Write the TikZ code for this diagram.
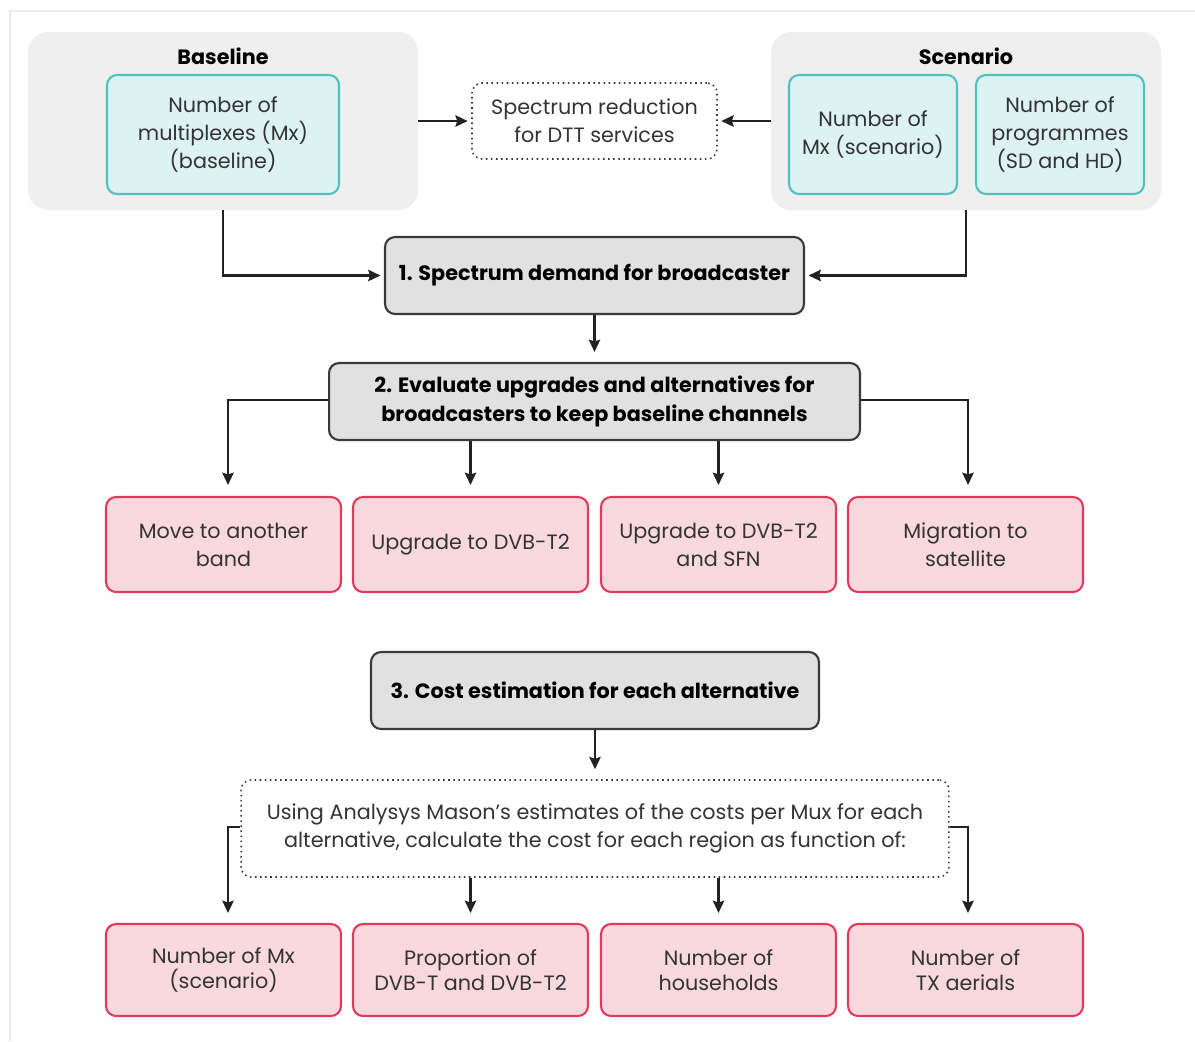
\documentclass[tikz,border=0pt]{standalone}
\usepackage{fontspec}
\setmainfont{Poppins}
\usetikzlibrary{arrows.meta}

\definecolor{grpgray}{HTML}{EFEFEF}
\definecolor{tealline}{HTML}{4FC4BE}
\definecolor{tealfill}{HTML}{DDF2F2}
\definecolor{pinkline}{HTML}{E23A5C}
\definecolor{pinkfill}{HTML}{F9D8DE}
\definecolor{stepfill}{HTML}{E1E1E1}
\definecolor{darkline}{HTML}{3A3A3A}
\definecolor{arrline}{HTML}{222222}
\definecolor{txt}{HTML}{333333}
\definecolor{framegray}{HTML}{EBEBEB}

\newcommand\bodysize{\fontsize{11.8}{16}\selectfont}

\tikzset{
  grp/.style={fill=grpgray, rounded corners=0.4cm, minimum width=7.8cm, minimum height=3.56cm},
  grptitle/.style={font=\bodysize\bfseries, text=black},
  inbox/.style={draw=tealline, fill=tealfill, line width=1.2pt, rounded corners=0.2cm, minimum height=2.38cm, align=center, font=\bodysize, text=txt},
  stepbox/.style={draw=darkline, fill=stepfill, line width=1.2pt, rounded corners=0.2cm, minimum height=1.54cm, align=center, font=\bodysize\bfseries, text=black},
  altbox/.style={draw=pinkline, fill=pinkfill, line width=1.2pt, rounded corners=0.2cm, minimum width=4.7cm, align=center, font=\bodysize, text=txt},
  dotbox/.style={draw=darkline, dotted, line width=0.9pt, rounded corners=0.2cm, align=center, font=\bodysize, text=txt},
  arr/.style={-{Stealth[length=7pt, width=6.5pt, inset=1pt]}, line width=1.2pt, draw=arrline},
}

\begin{document}
\begin{tikzpicture}[x=0.02cm, y=-0.02cm]
  \useasboundingbox (0,0) rectangle (1195,1041);
  % frame
  \draw[framegray, line width=0.8pt] (1195,11) -- (10,11) -- (10,1041);

  % inputs
  \node[grp] (base) at (223,121) {};
  \node[grptitle] (basetitle) at (223,56) {Baseline};
  \node[inbox, minimum width=4.64cm] (basemx) at (223,134.5) {Number of\\multiplexes (Mx)\\(baseline)};
  \node[grp] (scen) at (966,121) {};
  \node[grptitle] (scentitle) at (966,56) {Scenario};
  \node[inbox, minimum width=3.36cm] (scenmx) at (873,134.5) {Number of\\Mx (scenario)};
  \node[inbox, minimum width=3.36cm] (scenprog) at (1060,134.5) {Number of\\programmes\\(SD and HD)};
  \node[dotbox, minimum width=4.9cm, minimum height=1.52cm] (reduct) at (594.5,121) {Spectrum reduction\\for DTT services};

  % steps
  \node[stepbox, minimum width=8.38cm] (demand) at (594.5,275.5) {1. Spectrum demand for broadcaster};
  \node[stepbox, minimum width=10.62cm] (evalb) at (594.5,401.5) {2. Evaluate upgrades and alternatives for\\broadcasters to keep baseline channels};
  \node[stepbox, minimum width=8.96cm] (costs) at (595,690.5) {3. Cost estimation for each alternative};
  \node[dotbox, minimum width=14.16cm, minimum height=1.94cm] (calcb) at (595,828.5) {Using Analysys Mason’s estimates of the costs per Mux for each\\alternative, calculate the cost for each region as function of:};

  % alternatives
  \node[altbox, minimum height=1.9cm] (alt1) at (223.5,544.5) {Move to another\\band};
  \node[altbox, minimum height=1.9cm] (alt2) at (470.5,544.5) {Upgrade to DVB-T2};
  \node[altbox, minimum height=1.9cm] (alt3) at (718.5,544.5) {Upgrade to DVB-T2\\and SFN};
  \node[altbox, minimum height=1.9cm] (alt4) at (965.5,544.5) {Migration to\\satellite};

  % cost factors
  \tikzset{facbox/.style={altbox, minimum height=1.84cm, font=\fontsize{11.8}{14}\selectfont}}
  \node[facbox] (fac1) at (223.5,970) {Number of Mx\\(scenario)};
  \node[facbox] (fac2) at (470.5,970) {Proportion of\\DVB-T and DVB-T2};
  \node[facbox] (fac3) at (718.5,970) {Number of\\households};
  \node[facbox] (fac4) at (965.5,970) {Number of\\TX aerials};

  % connectors
  \draw[arr, shorten >=2pt] (base.east) -- (reduct.west);
  \draw[arr, shorten >=2pt] (scen.west) -- (reduct.east);
  \draw[arr, shorten >=2pt] (base.south) |- (demand.west);
  \draw[arr, shorten >=2pt] (scen.south) |- (demand.east);
  \draw[arr, shorten >=0.2cm] (demand.south) -- (evalb.north);
  \draw[arr, shorten >=0.2cm] (costs.south) -- (calcb.north);

  \draw[arr] ([yshift=0.03cm]evalb.west) -| ([xshift=0.09cm, yshift=0.22cm]alt1.north);
  \draw[arr] ([yshift=0.03cm]evalb.east) -| ([xshift=0.05cm, yshift=0.22cm]alt4.north);
  \foreach \b in {alt2,alt3}
    \draw[arr] (evalb.south -| \b.north) -- ([yshift=0.22cm]\b.north);

  \draw[arr] ([yshift=0.03cm]calcb.west) -| ([xshift=0.09cm, yshift=0.2cm]fac1.north);
  \draw[arr] ([yshift=0.03cm]calcb.east) -| ([xshift=0.05cm, yshift=0.2cm]fac4.north);
  \foreach \b in {fac2,fac3}
    \draw[arr] (calcb.south -| \b.north) -- ([yshift=0.2cm]\b.north);
\end{tikzpicture}
\end{document}
